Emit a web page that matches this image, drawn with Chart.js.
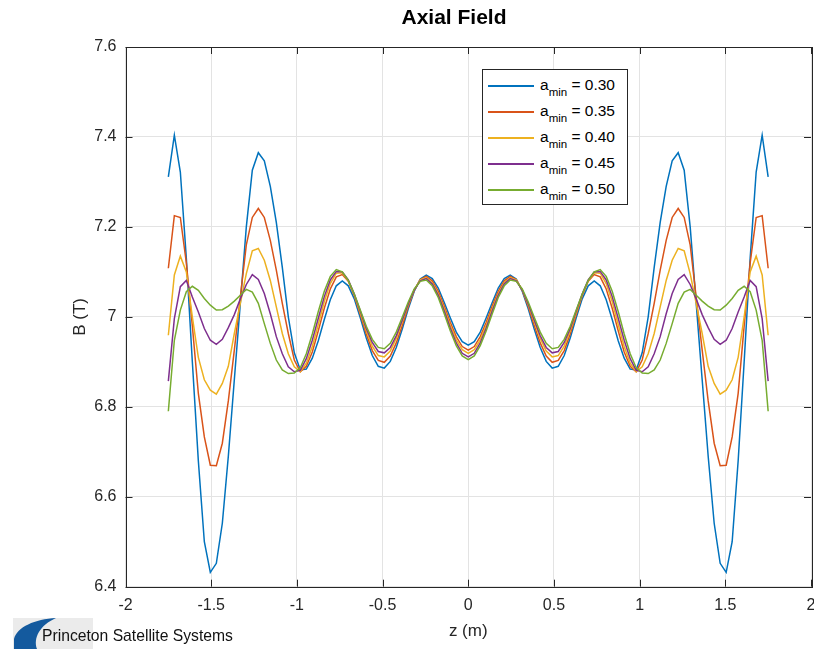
<!DOCTYPE html>
<html>
<head>
<meta charset="utf-8">
<title>Axial Field</title>
<script src="https://cdn.jsdelivr.net/npm/chart.js@4.4.0/dist/chart.umd.min.js"></script>
<style>
  body { margin: 0; background: #fff; font-family: "Liberation Sans", Arial, sans-serif; }
  #wrap { position: relative; width: 814px; height: 649px; overflow: hidden; background: #fff; }
  #axialChart { position: absolute; left: 0; top: 0; }
  #title { position: absolute; left: 304px; width: 300px; top: 5px; text-align: center;
           font-weight: bold; font-size: 21px; color: #000; }
  #legend { position: absolute; left: 482px; top: 69px; width: 146px; height: 136px;
            border: 1px solid #262626; background: #fff; box-sizing: border-box; }
  .row { position: absolute; left: 0; height: 20px; font-size: 15.5px; color: #000; white-space: nowrap; }
  .swatch { position: absolute; left: 5px; top: 9px; width: 46px; height: 1.5px; }
  .lbl { position: absolute; left: 57px; top: 0; line-height: 18px; }
  .lbl sub { font-size: 11.5px; vertical-align: -6px; line-height: 0; }
  #logo { position: absolute; left: 13px; top: 618px; width: 80px; height: 31px; background: #ebebeb; }
  #logo svg { position: absolute; left: 0; top: 0; }
  #logoText { position: absolute; left: 42px; top: 627px; font-size: 15.7px; color: #111; white-space: nowrap; }
</style>
</head>
<body>
<div id="wrap">
  <canvas id="axialChart" width="814" height="649"></canvas>
  <div id="title">Axial Field</div>
  <div id="legend"></div>
  <div id="logo">
    <svg width="80" height="31" viewBox="0 0 80 31">
      <path d="M43 0 C22 1 4 9 1 21 L1 31 L24 31 C20 20 27 7 43 0 Z" fill="#145a9e"/>
    </svg>
  </div>
  <div id="logoText">Princeton Satellite Systems</div>
</div>
<script>
// z positions (m)
const zValues = [
  -1.75, -1.715, -1.68, -1.645, -1.61, -1.575, -1.54, -1.505, -1.47, -1.435,
  -1.4, -1.365, -1.33, -1.295, -1.26, -1.225, -1.19, -1.155, -1.12, -1.085,
  -1.05, -1.015, -0.98, -0.945, -0.91, -0.875, -0.84, -0.805, -0.77, -0.735,
  -0.7, -0.665, -0.63, -0.595, -0.56, -0.525, -0.49, -0.455, -0.42, -0.385,
  -0.35, -0.315, -0.28, -0.245, -0.21, -0.175, -0.14, -0.105, -0.07, -0.035,
  0,
  0.035, 0.07, 0.105, 0.14, 0.175, 0.21, 0.245, 0.28, 0.315, 0.35,
  0.385, 0.42, 0.455, 0.49, 0.525, 0.56, 0.595, 0.63, 0.665, 0.7,
  0.735, 0.77, 0.805, 0.84, 0.875, 0.91, 0.945, 0.98, 1.015, 1.05,
  1.085, 1.12, 1.155, 1.19, 1.225, 1.26, 1.295, 1.33, 1.365, 1.4,
  1.435, 1.47, 1.505, 1.54, 1.575, 1.61, 1.645, 1.68, 1.715, 1.75
];

// B (T) for each a_min
const field030 = [
  7.311, 7.404, 7.322, 7.13, 6.90, 6.68, 6.50, 6.432, 6.452, 6.541,
  6.69, 6.86, 7.03, 7.20, 7.326, 7.365, 7.347, 7.29, 7.21, 7.11,
  7.00, 6.92, 6.882, 6.884, 6.908, 6.947, 6.994, 7.038, 7.069, 7.080,
  7.069, 7.040, 6.998, 6.953, 6.914, 6.890, 6.886, 6.901, 6.932, 6.973,
  7.018, 7.057, 7.084, 7.093, 7.085, 7.064, 7.032, 6.998, 6.966, 6.945,
  6.937,
  6.945, 6.966, 6.998, 7.032, 7.064, 7.085, 7.093, 7.084, 7.057, 7.018,
  6.973, 6.932, 6.901, 6.886, 6.890, 6.914, 6.953, 6.998, 7.040, 7.069,
  7.080, 7.069, 7.038, 6.994, 6.947, 6.908, 6.884, 6.882, 6.92, 7.00,
  7.11, 7.21, 7.29, 7.347, 7.365, 7.326, 7.20, 7.03, 6.86, 6.69,
  6.541, 6.452, 6.432, 6.50, 6.68, 6.90, 7.13, 7.322, 7.404, 7.311
];
const field035 = [
  7.108, 7.225, 7.221, 7.12, 6.98, 6.83, 6.733, 6.670, 6.669, 6.719,
  6.813, 6.926, 7.044, 7.16, 7.221, 7.241, 7.221, 7.17, 7.104, 7.03,
  6.963, 6.904, 6.878, 6.890, 6.922, 6.969, 7.019, 7.062, 7.089, 7.094,
  7.079, 7.047, 7.005, 6.962, 6.925, 6.903, 6.899, 6.913, 6.942, 6.981,
  7.023, 7.059, 7.083, 7.090, 7.080, 7.057, 7.024, 6.988, 6.956, 6.934,
  6.926,
  6.934, 6.956, 6.988, 7.024, 7.057, 7.080, 7.090, 7.083, 7.059, 7.023,
  6.981, 6.942, 6.913, 6.899, 6.903, 6.925, 6.962, 7.005, 7.047, 7.079,
  7.094, 7.089, 7.062, 7.019, 6.969, 6.922, 6.890, 6.878, 6.904, 6.963,
  7.03, 7.104, 7.17, 7.221, 7.241, 7.221, 7.16, 7.044, 6.926, 6.813,
  6.719, 6.669, 6.670, 6.733, 6.83, 6.98, 7.12, 7.221, 7.225, 7.108
];
const field040 = [
  6.959, 7.093, 7.135, 7.10, 7.00, 6.91, 6.86, 6.837, 6.828, 6.852,
  6.89, 6.963, 7.03, 7.096, 7.147, 7.152, 7.126, 7.081, 7.022, 6.963,
  6.918, 6.889, 6.878, 6.897, 6.934, 6.983, 7.034, 7.074, 7.097, 7.098,
  7.080, 7.049, 7.009, 6.969, 6.935, 6.914, 6.911, 6.924, 6.952, 6.989,
  7.027, 7.060, 7.082, 7.087, 7.076, 7.051, 7.018, 6.981, 6.949, 6.927,
  6.919,
  6.927, 6.949, 6.981, 7.018, 7.051, 7.076, 7.087, 7.082, 7.060, 7.027,
  6.989, 6.952, 6.924, 6.911, 6.914, 6.935, 6.969, 7.009, 7.049, 7.080,
  7.098, 7.097, 7.074, 7.034, 6.983, 6.934, 6.897, 6.878, 6.889, 6.918,
  6.963, 7.022, 7.081, 7.126, 7.152, 7.147, 7.096, 7.03, 6.963, 6.89,
  6.852, 6.828, 6.837, 6.86, 6.91, 7.00, 7.10, 7.135, 7.093, 6.959
];
const field045 = [
  6.857, 6.996, 7.067, 7.081, 7.044, 7.011, 6.974, 6.948, 6.939, 6.950,
  6.976, 7.005, 7.04, 7.072, 7.094, 7.083, 7.052, 7.007, 6.956, 6.918,
  6.889, 6.878, 6.881, 6.907, 6.948, 6.997, 7.045, 7.082, 7.101, 7.100,
  7.082, 7.051, 7.013, 6.974, 6.943, 6.923, 6.920, 6.932, 6.958, 6.993,
  7.029, 7.060, 7.080, 7.085, 7.073, 7.048, 7.013, 6.975, 6.942, 6.919,
  6.911,
  6.919, 6.942, 6.975, 7.013, 7.048, 7.073, 7.085, 7.080, 7.060, 7.029,
  6.993, 6.958, 6.932, 6.920, 6.923, 6.943, 6.974, 7.013, 7.051, 7.082,
  7.100, 7.101, 7.082, 7.045, 6.997, 6.948, 6.907, 6.881, 6.878, 6.889,
  6.918, 6.956, 7.007, 7.052, 7.083, 7.094, 7.072, 7.04, 7.005, 6.976,
  6.950, 6.939, 6.948, 6.974, 7.011, 7.044, 7.081, 7.067, 6.996, 6.857
];
const field050 = [
  6.790, 6.948, 7.015, 7.056, 7.068, 7.059, 7.041, 7.026, 7.015, 7.016,
  7.024, 7.035, 7.048, 7.061, 7.055, 7.03, 6.985, 6.941, 6.904, 6.882,
  6.874, 6.875, 6.887, 6.918, 6.962, 7.012, 7.057, 7.090, 7.105, 7.100,
  7.081, 7.051, 7.015, 6.979, 6.950, 6.932, 6.929, 6.941, 6.966, 6.999,
  7.033, 7.062, 7.079, 7.082, 7.069, 7.043, 7.007, 6.969, 6.936, 6.913,
  6.905,
  6.913, 6.936, 6.969, 7.007, 7.043, 7.069, 7.082, 7.079, 7.062, 7.033,
  6.999, 6.966, 6.941, 6.929, 6.932, 6.950, 6.979, 7.015, 7.051, 7.081,
  7.100, 7.105, 7.090, 7.057, 7.012, 6.962, 6.918, 6.887, 6.875, 6.874,
  6.882, 6.904, 6.941, 6.985, 7.03, 7.055, 7.061, 7.048, 7.035, 7.024,
  7.016, 7.015, 7.026, 7.041, 7.059, 7.068, 7.056, 7.015, 6.948, 6.790
];

const aminLabels = ['0.30', '0.35', '0.40', '0.45', '0.50'];
const xTicks = [-2, -1.5, -1, -0.5, 0, 0.5, 1, 1.5, 2];
const yTicks = [6.4, 6.6, 6.8, 7, 7.2, 7.4, 7.6];

const seriesList = [field030, field035, field040, field045, field050];
const lineColors = ['#0072BD', '#D95319', '#EDB120', '#7E2F8E', '#77AC30'];
const axisColor = '#262626';

// MATLAB style box with inward ticks
const boxPlugin = {
  id: 'matlabBox',
  afterDatasetsDraw(chart) {
    const {ctx, chartArea: a, scales} = chart;
    ctx.save();
    ctx.strokeStyle = axisColor;
    ctx.lineWidth = 1;
    ctx.strokeRect(Math.round(a.left) + 0.5, Math.round(a.top) + 0.5,
                   Math.round(a.right - a.left), Math.round(a.bottom - a.top));
    ctx.beginPath();
    xTicks.forEach(v => {
      const x = Math.round(scales.x.getPixelForValue(v)) + 0.5;
      ctx.moveTo(x, a.bottom); ctx.lineTo(x, a.bottom - 7);
      ctx.moveTo(x, a.top); ctx.lineTo(x, a.top + 7);
    });
    yTicks.forEach(v => {
      const y = Math.round(scales.y.getPixelForValue(v)) + 0.5;
      ctx.moveTo(a.left, y); ctx.lineTo(a.left + 7, y);
      ctx.moveTo(a.right, y); ctx.lineTo(a.right - 7, y);
    });
    ctx.stroke();
    ctx.restore();
  }
};

function buildLegend() {
  const box = document.getElementById('legend');
  aminLabels.forEach((label, k) => {
    const row = document.createElement('div');
    row.className = 'row';
    row.style.top = (6 + k * 26) + 'px';
    row.style.width = '100%';
    const sw = document.createElement('div');
    sw.className = 'swatch';
    sw.style.background = lineColors[k];
    const txt = document.createElement('span');
    txt.className = 'lbl';
    txt.innerHTML = 'a<sub>min</sub> = ' + label;
    row.appendChild(sw);
    row.appendChild(txt);
    box.appendChild(row);
  });
}

function initializeChart() {
  const ctx = document.getElementById('axialChart').getContext('2d');
  const tickFont = { family: '"Liberation Sans", Arial, sans-serif', size: 16 };

  new Chart(ctx, {
    type: 'line',
    data: {
      datasets: seriesList.map((vals, k) => ({
        label: 'a_min = ' + aminLabels[k],
        data: zValues.map((z, i) => ({ x: z, y: vals[i] })),
        borderColor: lineColors[k],
        borderWidth: 1.5,
        pointRadius: 0,
        tension: 0,
        fill: false,
        order: seriesList.length - k
      }))
    },
    options: {
      responsive: false,
      animation: false,
      layout: { padding: { left: 0, right: 3, top: 47, bottom: 0 } },
      plugins: { legend: { display: false }, tooltip: { enabled: false }, title: { display: false } },
      scales: {
        x: {
          type: 'linear',
          min: -2,
          max: 2,
          afterBuildTicks: s => { s.ticks = xTicks.map(v => ({ value: v })); },
          afterFit: s => {
            s.height = 62.3;
            s.paddingLeft = 0;
            s.paddingRight = 0;
          },
          grid: { color: '#e3e3e3', drawTicks: false },
          border: { display: false },
          ticks: { color: axisColor, font: tickFont, padding: 9, maxRotation: 0,
                   callback: v => String(v) },
          title: { display: true, text: 'z (m)', color: axisColor,
                   font: { family: tickFont.family, size: 17 }, padding: { top: 0, bottom: 7 } }
        },
        y: {
          min: 6.4,
          max: 7.6,
          afterBuildTicks: s => { s.ticks = yTicks.map(v => ({ value: v })); },
          afterFit: s => { s.width = 125.5; },
          grid: { color: '#e3e3e3', drawTicks: false },
          border: { display: false },
          ticks: { color: axisColor, font: tickFont, padding: 9, callback: v => String(v) },
          title: { display: true, text: 'B (T)', color: axisColor,
                   font: { family: tickFont.family, size: 17 }, padding: { top: 70, bottom: 0 } }
        }
      }
    },
    plugins: [boxPlugin]
  });
}

document.addEventListener('DOMContentLoaded', function() {
  buildLegend();
  initializeChart();
});
</script>
</body>
</html>
